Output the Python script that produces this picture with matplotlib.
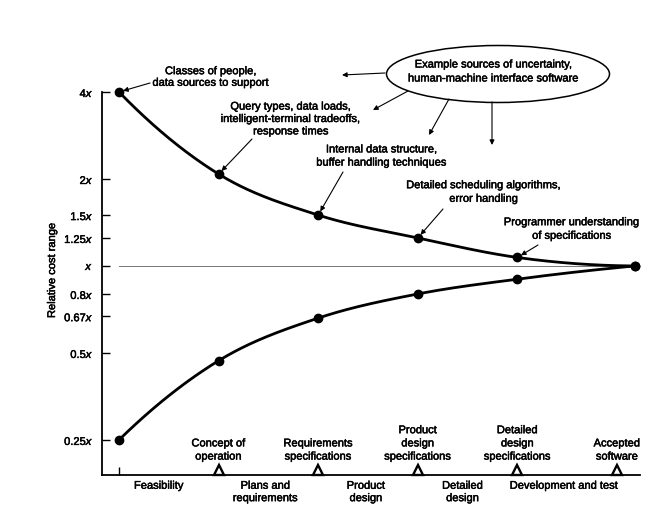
import numpy as np
import matplotlib
matplotlib.use("Agg")
import matplotlib.pyplot as plt
import matplotlib.patheffects as pe
from matplotlib.patches import Ellipse

# ---------------- data ----------------
point_x = [0, 1, 2, 3, 4, 5.18]
upper_range = [4.0, 2.08, 1.5, 1.25, 1.07, 1.0]
lower_range = [0.25, 0.47, 0.66, 0.8, 0.9, 1.0]

milestone_x = [1, 2, 3, 4, 5]
milestone_labels = ["Concept of\noperation", "Requirements\nspecifications",
                    "Product\ndesign\nspecifications", "Detailed\ndesign\nspecifications",
                    "Accepted\nsoftware"]
phase_x = [0.4, 1.47, 2.48, 3.45, 4.47]
phase_labels = ["Feasibility", "Plans and\nrequirements", "Product\ndesign",
                "Detailed\ndesign", "Development and test"]

ytick_vals = [4, 2, 1.5, 1.25, 1, 0.8, 0.67, 0.5, 0.25]
ytick_labels = ["4$x$", "2$x$", "1.5$x$", "1.25$x$", "$x$", "0.8$x$", "0.67$x$", "0.5$x$", "0.25$x$"]

plt.rcParams['font.family'] = ['Liberation Sans', 'DejaVu Sans']
plt.rcParams['mathtext.fontset'] = 'custom'
plt.rcParams['mathtext.it'] = 'Liberation Sans:italic'
FS = 8
BOLD = [pe.withStroke(linewidth=0.35, foreground='black')]

W, H = 672, 506
fig = plt.figure(figsize=(W / 100, H / 100), dpi=100)
ax = fig.add_axes([102 / W, 1 - 476 / H, (640 - 102) / W, (476 - 93) / H])


def smooth_curve(xs, vals, n=60):
    """Cubic Hermite curve through the points, in log space (drawing only)."""
    x = np.asarray(xs, float)
    y = np.log2(np.asarray(vals, float))
    h = np.diff(x)
    dl = np.diff(y) / h
    d = np.zeros_like(y)
    for i in range(1, len(y) - 1):
        d[i] = (dl[i - 1] * h[i] + dl[i] * h[i - 1]) / (h[i - 1] + h[i])
    d[0] = ((2 * h[0] + h[1]) * dl[0] - h[0] * dl[1]) / (h[0] + h[1])
    d[-1] = ((2 * h[-1] + h[-2]) * dl[-1] - h[-1] * dl[-2]) / (h[-1] + h[-2])
    if np.sign(d[-1]) != np.sign(dl[-1]):
        d[-1] = 0.0
    xo, yo = [], []
    for i in range(len(h)):
        t = np.linspace(0, 1, n)
        h00 = 2 * t ** 3 - 3 * t ** 2 + 1
        h10 = t ** 3 - 2 * t ** 2 + t
        h01 = -2 * t ** 3 + 3 * t ** 2
        h11 = t ** 3 - t ** 2
        xo.append(x[i] + t * h[i])
        yo.append(h00 * y[i] + h10 * h[i] * d[i] + h01 * y[i + 1] + h11 * h[i] * d[i + 1])
    return np.concatenate(xo), 2 ** np.concatenate(yo)


ax.set_yscale('log')
ax.set_xlim(-0.171, 5.231)
ax.set_ylim(0.189, 4.0)

# reference line at x
ax.plot([0, point_x[-1]], [1, 1], color='#777777', lw=0.7, zorder=1)

for vals in (upper_range, lower_range):
    cx, cy = smooth_curve(point_x, vals)
    ax.plot(cx, cy, color='black', lw=2.0, clip_on=False, zorder=3)
    ax.plot(point_x, vals, 'o', color='black', ms=6, clip_on=False, zorder=4)

# milestones
ax.plot(milestone_x, [0.012] * len(milestone_x), ls='none', marker='^', ms=7,
        mfc='white', mec='black', mew=1.7, transform=ax.get_xaxis_transform(),
        clip_on=False, zorder=5)
for mx, lab in zip(milestone_x, milestone_labels):
    ax.text(mx, 0.035, lab, transform=ax.get_xaxis_transform(), ha='center', va='bottom',
            fontsize=FS, linespacing=1.4, path_effects=BOLD)
for px, lab in zip(phase_x, phase_labels):
    ax.text(px, -0.015, lab, transform=ax.get_xaxis_transform(), ha='center', va='top',
            fontsize=FS, linespacing=1.3, path_effects=BOLD)

# axes style
for s in ('top', 'right'):
    ax.spines[s].set_visible(False)
ax.spines['left'].set_linewidth(1.3)
ax.spines['bottom'].set_linewidth(1.3)
ax.set_yticks(ytick_vals)
ax.set_yticklabels(ytick_labels, fontsize=FS)
for t in ax.get_yticklabels():
    t.set_path_effects(BOLD)
ax.yaxis.set_minor_locator(matplotlib.ticker.NullLocator())
ax.tick_params(axis='y', direction='in', length=6, width=1, pad=6)
ax.set_xticks([0])
ax.set_xticklabels([""])
ax.tick_params(axis='x', direction='in', length=6, width=1)

fig.text(52 / W, 1 - 271 / H, "Relative cost range", rotation=90, ha='center', va='center',
         fontsize=FS, path_effects=BOLD)

# ---------- annotations ----------
def fp(px, py):
    return (px, H - py)

arrow = dict(arrowstyle='-|>', lw=0.8, color='black', mutation_scale=7, shrinkA=0, shrinkB=0)

def note(text, tx, ty, start, target_data, ls):
    fig.text(tx / W, 1 - ty / H, text, ha='center', va='center', fontsize=FS,
             linespacing=ls, path_effects=BOLD)
    ax.annotate("", xy=target_data, xycoords='data', xytext=fp(*start),
                textcoords='figure pixels', arrowprops=dict(arrow, shrinkB=3),
                annotation_clip=False)

note("Classes of people,\ndata sources to support", 211, 78, (150, 84),
     (point_x[0], upper_range[0]), 1.2)
note("Query types, data loads,\nintelligent-terminal tradeoffs,\nresponse times", 291, 120,
     (252, 140), (point_x[1], upper_range[1]), 1.3)
note("Internal data structure,\nbuffer handling techniques", 382, 157, (343, 173),
     (point_x[2], upper_range[2]), 1.4)
note("Detailed scheduling algorithms,\nerror handling", 484, 193, (443, 210),
     (point_x[3], upper_range[3]), 1.45)
note("Programmer understanding\nof specifications", 572, 230, (538, 246),
     (point_x[4], upper_range[4]), 1.45)

ell = Ellipse((498 / W, 1 - 75 / H), 223 / W, 57 / H, transform=fig.transFigure,
              fill=False, lw=1.1, color='black')
fig.add_artist(ell)
fig.text(494 / W, 1 - 72.5 / H, "Example sources of uncertainty,\nhuman-machine interface software",
         ha='center', va='center', fontsize=FS, linespacing=1.5, path_effects=BOLD)

for (sx, sy), (ex, ey) in [((385, 74), (342, 76)), ((408, 92), (373, 111)),
                           ((449, 100), (429, 136)), ((492, 103), (492, 146))]:
    ax.annotate("", xy=fp(ex, ey), xycoords='figure pixels', xytext=fp(sx, sy),
                textcoords='figure pixels', arrowprops=arrow, annotation_clip=False)

fig.savefig("out.png", dpi=100)
